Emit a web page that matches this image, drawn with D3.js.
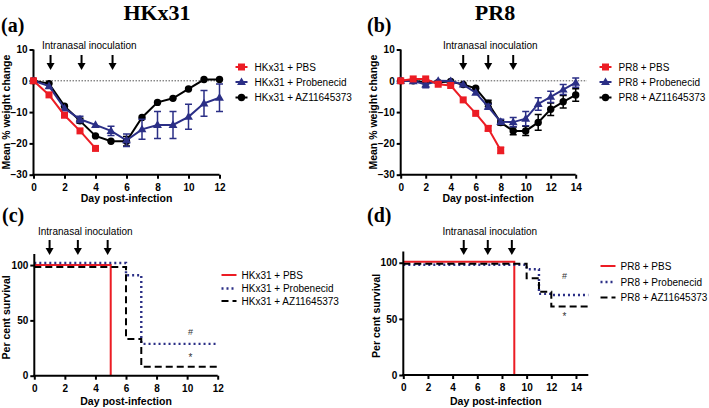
<!DOCTYPE html>
<html><head><meta charset="utf-8">
<script src="https://cdn.jsdelivr.net/npm/d3@7"></script>
<style>
body{margin:0;background:#fff;}
text{font-family:"Liberation Sans",Arial,sans-serif;}
text.serif{font-family:"Liberation Serif","Times New Roman",serif;}
</style></head>
<body><svg id="c" width="709" height="408"></svg>
<script>
// ---------- DATA ----------
const hkDays = [0,1,2,3,4,5,6,7,8,9,10,11,12];
const hkPBS = [0,-4.5,-11,-16,-21.6];
const hkPBSErr = [0,0.4,0.5,0.6,0.6];
const hkProb = [0,-1.7,-8.8,-12.3,-14.1,-16,-19,-15.5,-14.1,-14.1,-11.5,-7.2,-5.4];
const hkProbErr = [0,0.3,0.5,1,0.5,1.5,2,3.2,4.3,4.3,4,4.1,4.4];
const hkAZ = [0,-0.9,-8.1,-12.8,-17.6,-19.3,-19.3,-11.7,-6.9,-5.6,-2.6,0.4,0.4];
const hkAZErr = [0,0.3,0.5,0.8,0.5,0.5,1.5,0.5,0.5,0.5,0.5,0.5,0.5];

const prDays = [0,1,2,3,4,5,6,7,8,9,10,11,12,13,14];
const prPBS = [0,0.6,0.6,-1.1,-1.5,-6.1,-10.4,-15.2,-22.2];
const prPBSErr = [0,0.3,0.5,0.5,0.5,0.5,0.5,0.8,1];
const prProb = [0,-0.1,-1.2,0,-0.1,-1.2,-3.8,-8.3,-13.1,-13.2,-12.1,-7.4,-5.1,-2.8,-0.6];
const prProbErr = [0,0.3,1,0.3,0.3,0.3,0.5,0.8,0.8,1.5,2.3,2,1.8,1.6,1.5];
const prAZ = [0,0,-0.5,-0.5,-0.2,-1.2,-2.4,-7.2,-13.3,-16,-16,-13.3,-9.1,-6.7,-4.5];
const prAZErr = [0,0.3,0.3,0.3,0.3,0.3,0.5,1,0.8,1.2,1.5,2.5,2,2,2];

// survival: [day, percent] step points
const hkSurvPBS = [[0,100],[5,0]];
const hkSurvProb = [[0,100],[6,89],[7,27],[12,27]];
const hkSurvAZ = [[0,100],[6,35],[7,10],[12,10]];
const prSurvPBS = [[0,100],[9,0]];
const prSurvProb = [[0,100],[10,96],[11,74],[12,73],[15,73]];
const prSurvAZ = [[0,100],[10,87],[11,75],[12,62],[15,62]];

const hkLabels = ["HKx31 + PBS","HKx31 + Probenecid","HKx31 + AZ11645373"];
const prLabels = ["PR8 + PBS","PR8 + Probenecid","PR8 + AZ11645373"];
const weightTicks = [10,0,-10,-20,-30];
const survTicks = [0,50,100];
const hkArrowDaysW = [1.1,3.1,5.1];
const prArrowDaysW = [5,7,9];
const hkArrowDaysS = [1,2.85,4.8];
const prArrowDaysS = [4.9,6.85,8.8];

// ---------- STYLE ----------
const RED="#ec1c24", NAVY="#2b2f86", BLACK="#000";
const svg = d3.select("#c");

function tx(s,x,y,txt,opt){
  const t=s.append("text").attr("x",x).attr("y",y).text(txt);
  for(const k in opt) t.attr(k,opt[k]);
  return t;
}

function arrows(g,x,days,y0,y1){
  days.forEach(d=>{
    const cx=x(d);
    g.append("line").attr("x1",cx).attr("x2",cx).attr("y1",y0).attr("y2",y1-5)
      .attr("stroke","#000").attr("stroke-width",2);
    g.append("path").attr("d",`M${cx-4},${y1-7}L${cx+4},${y1-7}L${cx},${y1}Z`).attr("fill","#000");
  });
}

function axes(g,x,y,xTicks,yTicks,xr,yr,xLabelY){
  g.append("g").attr("transform",`translate(0,${yr[0]})`)
    .call(d3.axisBottom(x).tickValues(xTicks).tickSize(4).tickSizeOuter(0).tickFormat(d3.format("d")))
    .call(a=>{a.select(".domain").attr("stroke-width",2).attr("d",`M${xr[0]-1},0H${xr[1]}`);
      a.selectAll(".tick line").attr("stroke-width",2);
      a.selectAll("text").attr("font-size",10).attr("font-weight","bold").attr("dy","0.9em");});
  g.append("g").attr("transform",`translate(${xr[0]},0)`)
    .call(d3.axisLeft(y).tickValues(yTicks).tickSize(4).tickSizeOuter(0).tickFormat(d=>d<0?"\u2212"+(-d):d))
    .call(a=>{a.select(".domain").attr("stroke-width",2).attr("d",`M0,${yr[0]+1}V${yr[1]}`);
      a.selectAll(".tick line").attr("stroke-width",2);
      a.selectAll("text").attr("font-size",10).attr("font-weight","bold").attr("dx","0.1em");});
  tx(g,(xr[0]+xr[1])/2,xLabelY,"Day post-infection",{"text-anchor":"middle","font-size":10.5,"font-weight":"bold"});
}

function marker(g,type,cx,cy,color){
  if(type==="sq") g.append("rect").attr("x",cx-3.5).attr("y",cy-3.5).attr("width",7).attr("height",7).attr("fill",color);
  else if(type==="tri") g.append("path").attr("d",d3.symbol(d3.symbolTriangle,34)()).attr("transform",`translate(${cx},${cy+0.5})`).attr("fill",color);
  else g.append("circle").attr("cx",cx).attr("cy",cy).attr("r",3.7).attr("fill",color);
}

function weightPanel(o){
  const g=svg.append("g");
  const x=d3.scaleLinear().domain([0,o.xmax]).range(o.xr);
  const y=d3.scaleLinear().domain([-30,10]).range(o.yr);
  g.append("line").attr("x1",x(0)).attr("x2",x(o.dotEnd)).attr("y1",y(0)).attr("y2",y(0))
    .attr("stroke","#555").attr("stroke-width",1).attr("stroke-dasharray","1.5,1.5");
  axes(g,x,y,d3.range(0,o.xmax+1,2),weightTicks,o.xr,o.yr,o.xLabelY);
  tx(g,0,0,"Mean % weight change",{"text-anchor":"middle","font-size":10.5,"font-weight":"bold",
    transform:`translate(${o.ylabX},${(o.yr[0]+o.yr[1])/2}) rotate(-90)`});
  const series=[
    {v:o.az,e:o.azE,c:BLACK,m:"circ"},
    {v:o.prob,e:o.probE,c:NAVY,m:"tri"},
    {v:o.pbs,e:o.pbsE,c:RED,m:"sq"}];
  series.forEach(s=>{
    const pts=s.v.map((v,i)=>[o.days[i],v,s.e[i]]);
    pts.forEach(p=>{
      if(p[2]>0.6){
        const cx=x(p[0]);
        g.append("path").attr("d",`M${cx},${y(p[1]+p[2])}V${y(p[1]-p[2])}M${cx-3.5},${y(p[1]+p[2])}H${cx+3.5}M${cx-3.5},${y(p[1]-p[2])}H${cx+3.5}`)
          .attr("stroke",s.c).attr("stroke-width",1.5).attr("fill","none");
      }
    });
    g.append("path").datum(pts).attr("d",d3.line().x(p=>x(p[0])).y(p=>y(p[1])))
      .attr("stroke",s.c).attr("stroke-width",2).attr("fill","none");
    pts.forEach(p=>marker(g,s.m,x(p[0]),y(p[1]),s.c));
  });
  const lg=[{m:"sq",c:RED},{m:"tri",c:NAVY},{m:"circ",c:BLACK}];
  lg.forEach((l,i)=>{
    const ly=o.legY[i];
    g.append("line").attr("x1",o.legX-6).attr("x2",o.legX+6).attr("y1",ly).attr("y2",ly).attr("stroke",l.c).attr("stroke-width",2);
    marker(g,l.m,o.legX,ly,l.c);
    tx(g,o.legX+13,ly+3.6,o.labels[i],{"font-size":10});
  });
  tx(g,o.inocX,o.inocY,"Intranasal inoculation",{"font-size":10});
  arrows(g,x,o.arrowDays,55,70);
  tx(g,o.titleX,20,o.title,{"text-anchor":"middle","font-size":22,"font-weight":"bold","class":"serif"});
  tx(g,o.tagX,32,o.tag,{"font-size":20,"font-weight":"bold","class":"serif"});
}

function survPanel(o){
  const g=svg.append("g");
  const x=d3.scaleLinear().domain([0,o.xmax]).range(o.xr);
  const y=d3.scaleLinear().domain([0,110]).range(o.yr);
  const series=[
    {d:o.pbs,c:RED,dash:null,w:2,off:o.off[0]},
    {d:o.prob,c:NAVY,dash:"2,3",w:2.4,off:o.off[1]},
    {d:o.az,c:BLACK,dash:"7,4",w:2,off:o.off[2]}];
  series.forEach(s=>{
    g.append("path").datum(s.d).attr("d",d3.line().curve(d3.curveStepAfter).x(p=>x(p[0])).y(p=>y(p[1])+(p[1]>0?s.off:0)))
      .attr("stroke",s.c).attr("stroke-width",s.w).attr("fill","none").attr("stroke-dasharray",s.dash);
  });
  axes(g,x,y,d3.range(0,o.xTickMax+1,2),survTicks,[o.xr[0],o.xr[1]],o.yr,o.xLabelY);
  tx(g,0,0,"Per cent survival",{"text-anchor":"middle","font-size":10.5,"font-weight":"bold",
    transform:`translate(${o.ylabX},${y(50)-3}) rotate(-90)`});
  series.forEach((s,i)=>{
    const ly=o.legY[i];
    g.append("line").attr("x1",o.legX).attr("x2",o.legX+15).attr("y1",ly).attr("y2",ly)
      .attr("stroke",s.c).attr("stroke-width",s.w).attr("stroke-dasharray",s.dash);
    tx(g,o.legX+20,ly+3.6,o.labels[i],{"font-size":10});
  });
  tx(g,o.hashX,o.hashY,"#",{"font-size":9,"text-anchor":"middle","fill":"#333"});
  tx(g,o.hashX,o.starY,"*",{"font-size":10,"text-anchor":"middle","fill":"#333"});
  tx(g,o.inocX,o.inocY,"Intranasal inoculation",{"font-size":10});
  arrows(g,x,o.arrowDays,240,255);
  tx(g,o.tagX,222,o.tag,{"font-size":20,"font-weight":"bold","class":"serif"});
}

weightPanel({days:hkDays,pbs:hkPBS,pbsE:hkPBSErr,prob:hkProb,probE:hkProbErr,az:hkAZ,azE:hkAZErr,
  xmax:12,xr:[33.5,219.5],yr:[174.7,49.5],dotEnd:12,xLabelY:202,ylabX:10,
  legX:241.5,legY:[67,82,97.5],labels:hkLabels,inocX:42,inocY:49,arrowDays:hkArrowDaysW,
  title:"HKx31",titleX:157,tag:"(a)",tagX:1});
weightPanel({days:prDays,pbs:prPBS,pbsE:prPBSErr,prob:prProb,probE:prProbErr,az:prAZ,azE:prAZErr,
  xmax:14,xr:[400.7,575.7],yr:[174.7,49.5],dotEnd:14.9,xLabelY:202,ylabX:377,
  legX:605.5,legY:[67,82,97.5],labels:prLabels,inocX:443,inocY:49,arrowDays:prArrowDaysW,
  title:"PR8",titleX:495,tag:"(b)",tagX:367});
survPanel({pbs:hkSurvPBS,prob:hkSurvProb,az:hkSurvAZ,off:[0,-2,2],
  xmax:12,xTickMax:12,xr:[34.3,217.7],yr:[375.7,254],xLabelY:405,ylabX:10,
  legX:221.5,legY:[275,288.5,301],labels:hkLabels,hashX:190.5,hashY:335,starY:361,
  inocX:38,inocY:235,arrowDays:hkArrowDaysS,tag:"(c)",tagX:2});
survPanel({pbs:prSurvPBS,prob:prSurvProb,az:prSurvAZ,off:[-1,2,1],
  xmax:15,xTickMax:14,xr:[403.3,588.3],yr:[375,251.5],xLabelY:405,ylabX:380,
  legX:600.5,legY:[266,282,297.5],labels:prLabels,hashX:564.5,hashY:279,starY:320,
  inocX:442.5,inocY:235,arrowDays:prArrowDaysS,tag:"(d)",tagX:367});
</script></body></html>
